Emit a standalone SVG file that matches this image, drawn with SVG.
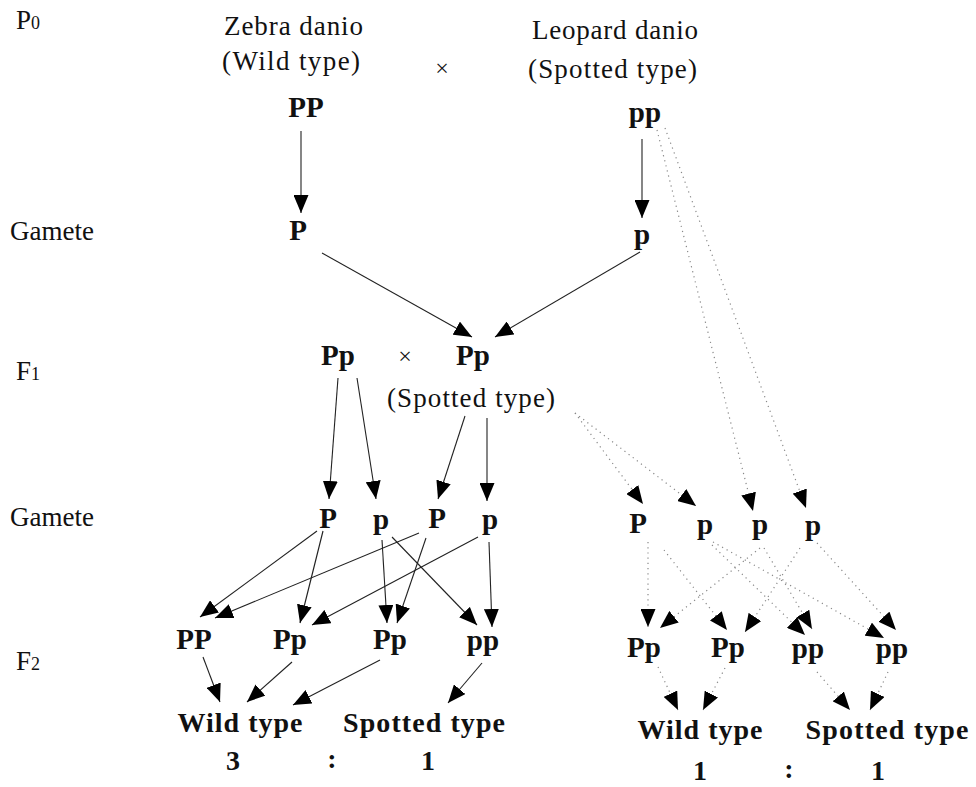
<svg xmlns="http://www.w3.org/2000/svg" width="976" height="787" viewBox="0 0 976 787">
<style>
text{font-family:"Liberation Serif","Times New Roman",serif;fill:#111}
.lab{font-size:27px}
.t{font-size:27px}
.g{font-size:29px;font-weight:bold;text-anchor:middle}
.ph{font-size:28px;font-weight:bold;text-anchor:middle}
.n{font-size:28px;font-weight:bold;text-anchor:middle}
.x{font-size:24px;text-anchor:middle}
.s{stroke:#222;stroke-width:1.1;fill:none;marker-end:url(#ah)}
.d{stroke:#888;stroke-width:1.2;stroke-dasharray:1.2 4;fill:none;marker-end:url(#ah)}
</style>
<defs>
<marker id="ah" markerUnits="userSpaceOnUse" markerWidth="19" markerHeight="15" refX="18" refY="7.5" orient="auto" viewBox="0 0 19 15">
<path d="M0,0 L18,7.5 L0,15 z" fill="#000"/>
</marker>
</defs>
<rect width="976" height="787" fill="#fff"/>
<g id="row-labels">
<text class="lab" x="16" y="29">P<tspan font-size="18">0</tspan></text>
<text class="lab" x="10" y="240">Gamete</text>
<text class="lab" x="16" y="380">F<tspan font-size="18">1</tspan></text>
<text class="lab" x="10" y="526">Gamete</text>
<text class="lab" x="16" y="670">F<tspan font-size="18">2</tspan></text>
</g>
<g id="p0-zebra">
<text class="t" x="224" y="35" textLength="139">Zebra danio</text>
<text class="t" x="222" y="70" textLength="138">(Wild type)</text>
<text class="g" x="306" y="117">PP</text>
</g>
<text id="cross-p0" class="x" x="442" y="76">×</text>
<g id="p0-leopard">
<text class="t" x="532" y="39" textLength="166">Leopard danio</text>
<text class="t" x="528" y="78" textLength="169">(Spotted type)</text>
<text class="g" x="645" y="122">pp</text>
</g>
<g id="gamete1-P"><text class="g" x="298" y="240">P</text></g>
<g id="gamete1-p"><text class="g" x="642" y="244">p</text></g>
<g id="f1-left"><text class="g" x="338" y="365">Pp</text></g>
<text id="cross-f1" class="x" x="405" y="364">×</text>
<g id="f1-right">
<text class="g" x="473" y="365">Pp</text>
<text class="t" x="387" y="407" textLength="168">(Spotted type)</text>
</g>
<g id="gametes-left">
<text class="g" x="328" y="528">P</text>
<text class="g" x="381" y="529">p</text>
<text class="g" x="437" y="528">P</text>
<text class="g" x="490" y="529">p</text>
</g>
<g id="gametes-right">
<text class="g" x="638" y="533">P</text>
<text class="g" x="705" y="534">p</text>
<text class="g" x="760" y="534">p</text>
<text class="g" x="813" y="535">p</text>
</g>
<g id="f2-left">
<text class="g" x="194" y="649">PP</text>
<text class="g" x="290" y="649">Pp</text>
<text class="g" x="390" y="649">Pp</text>
<text class="g" x="483" y="650">pp</text>
</g>
<g id="f2-right">
<text class="g" x="644" y="657">Pp</text>
<text class="g" x="728" y="657">Pp</text>
<text class="g" x="808" y="658">pp</text>
<text class="g" x="892" y="658">pp</text>
</g>
<g id="pheno-left">
<text class="ph" x="240" y="732" textLength="125">Wild type</text>
<text class="ph" x="424" y="732" textLength="162">Spotted type</text>
<text class="n" x="233" y="770">3</text>
<text class="n" x="332" y="768">:</text>
<text class="n" x="428" y="770">1</text>
</g>
<g id="pheno-right">
<text class="ph" x="700" y="739" textLength="125">Wild type</text>
<text class="ph" x="887" y="739" textLength="163">Spotted type</text>
<text class="n" x="700" y="780">1</text>
<text class="n" x="789" y="778">:</text>
<text class="n" x="878" y="780">1</text>
</g>
<g id="connectors">
<line class="s" x1="301" y1="131" x2="301" y2="213"/>
<line class="s" x1="642" y1="139" x2="642" y2="218"/>
<line class="s" x1="322" y1="253" x2="472" y2="337"/>
<line class="s" x1="640" y1="252" x2="495" y2="337"/>
<line class="s" x1="338" y1="378" x2="329" y2="499"/>
<line class="s" x1="357" y1="378" x2="376" y2="499"/>
<line class="s" x1="465" y1="416" x2="438" y2="499"/>
<line class="s" x1="487" y1="418" x2="487" y2="501"/>
<line class="s" x1="317" y1="531" x2="200" y2="617"/>
<line class="s" x1="323" y1="531" x2="300" y2="623"/>
<line class="s" x1="382" y1="540" x2="387" y2="623"/>
<line class="s" x1="392" y1="537" x2="477" y2="625"/>
<line class="s" x1="419" y1="533" x2="215" y2="618"/>
<line class="s" x1="426" y1="538" x2="397" y2="623"/>
<line class="s" x1="478" y1="537" x2="312" y2="625"/>
<line class="s" x1="489" y1="542" x2="492" y2="627"/>
<line class="s" x1="203" y1="657" x2="220" y2="702"/>
<line class="s" x1="292" y1="662" x2="247" y2="702"/>
<line class="s" x1="380" y1="660" x2="293" y2="705"/>
<line class="s" x1="482" y1="663" x2="448" y2="703"/>
<line class="d" x1="575" y1="413" x2="643" y2="504"/>
<line class="d" x1="575" y1="413" x2="696" y2="506"/>
<line class="d" x1="657" y1="130" x2="753" y2="511"/>
<line class="d" x1="665" y1="128" x2="806" y2="508"/>
<line class="d" x1="648" y1="542" x2="648" y2="627"/>
<line class="d" x1="664" y1="550" x2="727" y2="630"/>
<line class="d" x1="712" y1="545" x2="805" y2="635"/>
<line class="d" x1="713" y1="542" x2="884" y2="638"/>
<line class="d" x1="760" y1="548" x2="660" y2="628"/>
<line class="d" x1="764" y1="548" x2="812" y2="629"/>
<line class="d" x1="800" y1="548" x2="745" y2="632"/>
<line class="d" x1="817" y1="543" x2="896" y2="630"/>
<line class="d" x1="658" y1="667" x2="678" y2="710"/>
<line class="d" x1="725" y1="668" x2="703" y2="710"/>
<line class="d" x1="817" y1="672" x2="850" y2="710"/>
<line class="d" x1="888" y1="672" x2="870" y2="710"/>
</g>
</svg>
